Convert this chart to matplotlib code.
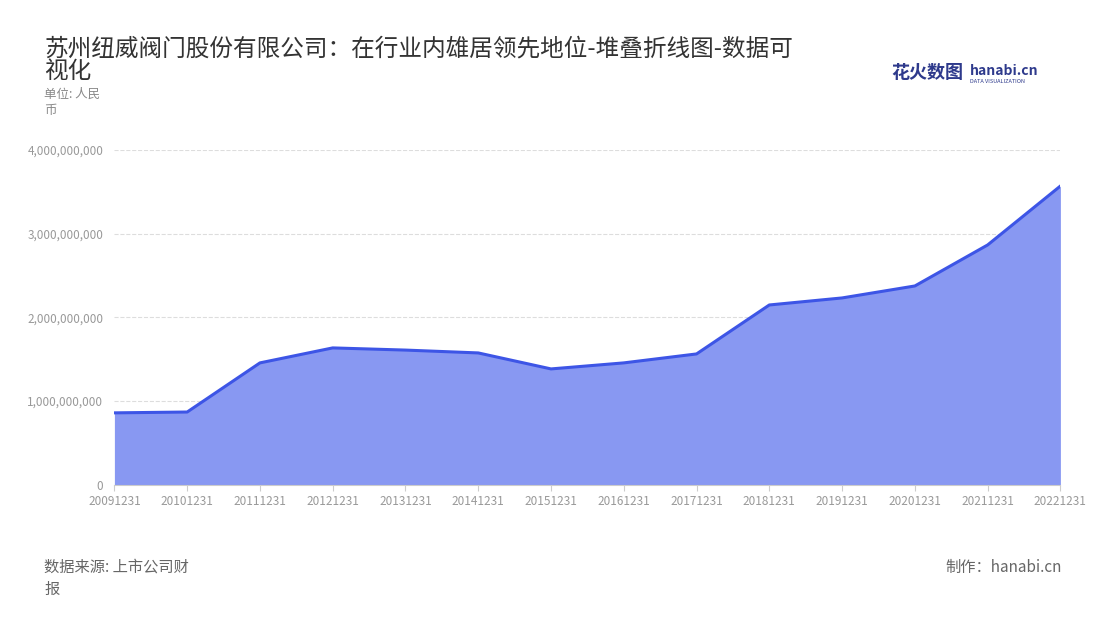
import matplotlib
matplotlib.use('Agg')
import matplotlib.pyplot as plt
from matplotlib.ticker import FuncFormatter

plt.rcParams['font.family'] = ['Noto Sans CJK SC', 'DejaVu Sans']

# data
years = ['20091231', '20101231', '20111231', '20121231', '20131231', '20141231', '20151231',
         '20161231', '20171231', '20181231', '20191231', '20201231', '20211231', '20221231']
revenue = [0.86e9, 0.87e9, 1.457e9, 1.636e9, 1.61e9, 1.576e9, 1.385e9,
           1.457e9, 1.564e9, 2.149e9, 2.233e9, 2.376e9, 2.866e9, 3.57e9]
yticks = [0, 1e9, 2e9, 3e9, 4e9]

fig = plt.figure(figsize=(11, 6.2), dpi=100)
ax = fig.add_axes([0.104, 0.218, 0.86, 0.54])
ax.set_axisbelow(True)

x = range(len(years))
ax.fill_between(x, revenue, color='#8898f2', lw=0, zorder=2)
ax.plot(x, revenue, color='#3d55e6', lw=2.2, zorder=3)

ax.set_xlim(0, len(years) - 1)
ax.set_ylim(0, 4e9)
ax.set_xticks(list(x))
ax.set_xticklabels(years, fontsize=8.5, color='#999999')
ax.set_yticks(yticks)
ax.yaxis.set_major_formatter(FuncFormatter(lambda v, p: f'{int(v):,}'))
ax.tick_params(axis='y', labelsize=8.5, colors='#999999', length=0, pad=8)
ax.tick_params(axis='x', length=4, color='#cccccc')
ax.grid(axis='y', ls='--', color='#dddddd', lw=0.8, zorder=0)
for s in ['top', 'right', 'left']:
    ax.spines[s].set_visible(False)
ax.spines['bottom'].set_color('#cccccc')

fig.text(0.04, 0.94, '苏州纽威阀门股份有限公司：在行业内雄居领先地位-堆叠折线图-数据可\n视化',
         fontsize=17, color='#333333', va='top', linespacing=1.0)
fig.text(0.04, 0.858, '单位: 人民\n币', fontsize=9, color='#888888', va='top', linespacing=1.3)
fig.text(0.81, 0.883, '花火数图', fontsize=13, color='#2e3a8c', weight='bold', va='center')
fig.text(0.882, 0.886, 'hanabi.cn', fontsize=10, color='#2e3a8c', weight='bold', va='center')
fig.text(0.882, 0.869, 'DATA VISUALIZATION', fontsize=4, color='#2e3a8c', va='center')
fig.text(0.04, 0.068, '数据来源: 上市公司财\n报', fontsize=11, color='#666666', va='center', linespacing=1.4)
fig.text(0.965, 0.085, '制作：hanabi.cn', fontsize=11, color='#666666', ha='right', va='center')

fig.savefig('out.png')
